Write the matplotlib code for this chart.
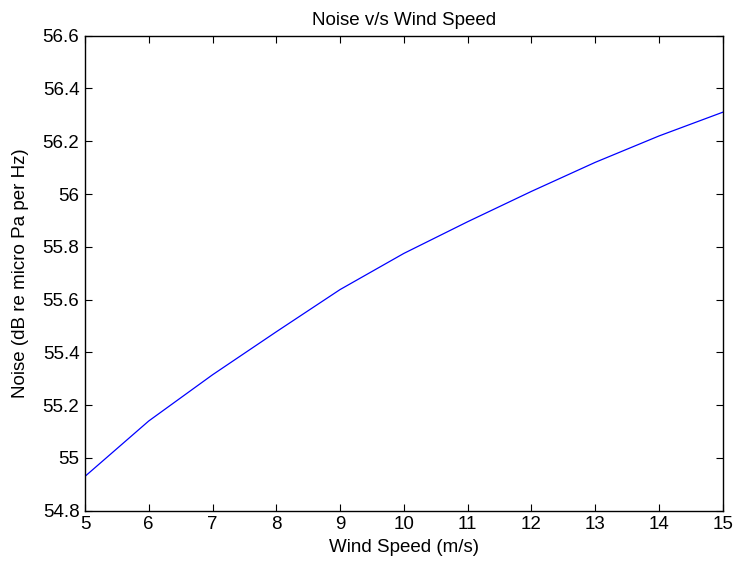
import matplotlib
matplotlib.use("Agg")
import matplotlib.pyplot as plt
from matplotlib.ticker import FuncFormatter

wind_speed = [5, 6, 7, 8, 9, 10, 11, 12, 13, 14, 15]
noise = [54.93, 55.14, 55.315, 55.478, 55.638, 55.775, 55.895, 56.01, 56.12, 56.22, 56.31]
x_ticks = list(range(5, 16))
y_ticks = [54.8, 55.0, 55.2, 55.4, 55.6, 55.8, 56.0, 56.2, 56.4, 56.6]

plt.rcParams['font.family'] = ['Liberation Sans', 'DejaVu Sans']
fs = 13.5

fig = plt.figure(figsize=(7.35, 5.64), dpi=100)
ax = fig.add_axes([0.1156, 0.0945, 0.9833 - 0.1156, 0.9367 - 0.0945])
ax.plot(wind_speed, noise, color='#0000ff', linewidth=0.9)
ax.set_xlim(5, 15)
ax.set_ylim(54.8, 56.6)
ax.set_xticks(x_ticks)
ax.set_yticks(y_ticks)
ax.yaxis.set_major_formatter(FuncFormatter(lambda v, p: '%g' % round(v, 4)))
ax.tick_params(direction='in', top=True, right=True, length=5, width=0.8, labelsize=fs, pad=4)
for s in ax.spines.values():
    s.set_linewidth(1.0)
ax.set_title('Noise v/s Wind Speed', fontsize=fs, pad=8)
ax.set_xlabel('Wind Speed (m/s)', fontsize=fs, labelpad=4)
ax.set_ylabel('Noise (dB re micro Pa per Hz)', fontsize=fs, labelpad=10)
fig.savefig('out.png', dpi=100, facecolor='white')
